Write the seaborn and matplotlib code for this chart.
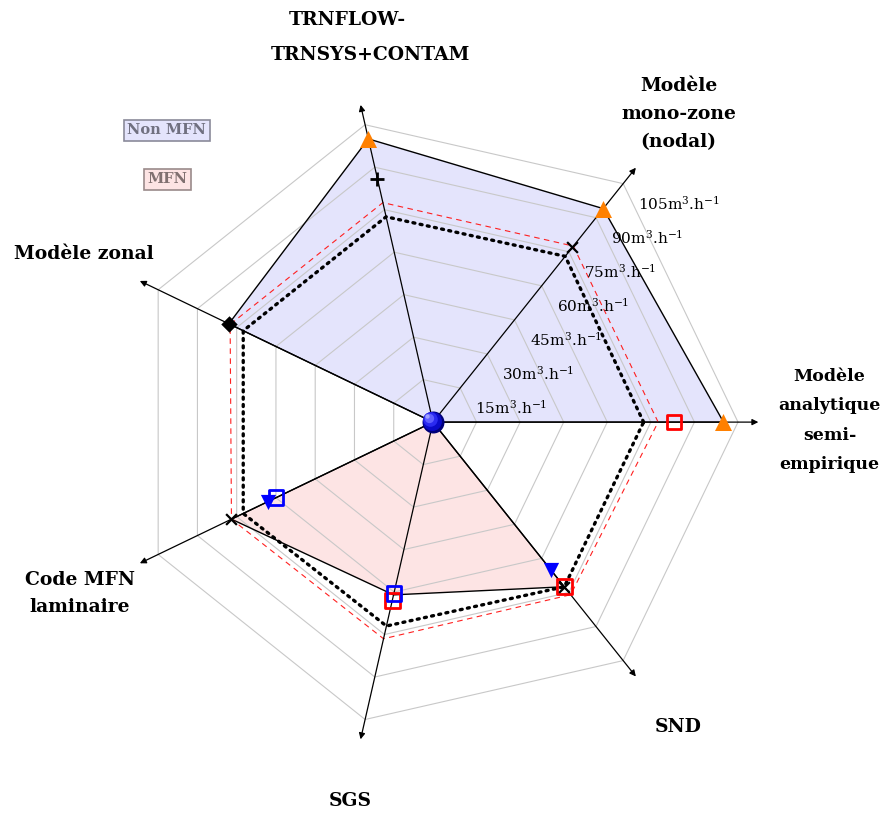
import numpy as np
import matplotlib.pyplot as plt
import seaborn as sns
import pandas as pd

sns.set_style("white")
plt.rcParams['font.family'] = ['DejaVu Serif']
plt.rcParams['mathtext.fontset'] = 'dejavuserif'
plt.rcParams['text.color'] = 'black'

# axes of the radar, counter-clockwise from the right
axis_names = ['Modèle\nanalytique\nsemi-\nempirique',
              'Modèle\nmono-zone\n(nodal)',
              'TRNFLOW-\nTRNSYS+CONTAM',
              'Modèle zonal',
              'Code MFN\nlaminaire',
              'SGS',
              'SND']
rings = [15, 30, 45, 60, 75, 90, 105]
ring_labels = [r'%dm$^3$.h$^{-1}$' % r for r in rings]

# filled areas
non_mfn = [100, 94, 100, 78, 0, 0, 0]
mfn = [0, 0, 0, 0, 77, 61, 72.5]
# reference contours
dotted_vals = [72.5, 73, 72.5, 72.5, 72.5, 72, 72.5]
dashed_vals = [77.5, 77.5, 77.5, 77.5, 77, 76.5, 76]

# markers: axis index and value
tri_up_axes, tri_up_vals = [0, 1, 2], [100, 94, 100]
plus_axes, plus_vals = [2], [86]
cross_axes, cross_vals = [1, 4, 6], [77, 77, 72.5]
diam_axes, diam_vals = [3], [78]
rsq_axes, rsq_vals = [0, 5, 6], [83, 63, 72.5]
bsq_axes, bsq_vals = [4, 5], [60, 60.5]
btri_axes, btri_vals = [4, 6], [63, 65]

n = len(axis_names)
theta = np.arange(n) * 2 * np.pi / n


def xy(idx, vals):
    idx = np.asarray(idx)
    vals = np.asarray(vals, dtype=float)
    return vals * np.cos(theta[idx]), vals * np.sin(theta[idx])


def closed(vals):
    x, y = xy(range(n), vals)
    return pd.DataFrame({'x': np.append(x, x[0]), 'y': np.append(y, y[0]),
                         'o': np.arange(n + 1)})


fig = plt.figure(figsize=(8.85, 8.14), dpi=100)
ax = fig.add_axes([0, 0, 1, 1])
ax.set_xlim(-149.05, 155.6)
ax.set_ylim(-134.9, 145.3)
ax.set_aspect('equal')
ax.axis('off')

# fills
for vals, fc in [(non_mfn, '#e4e4fc'), (mfn, '#fde4e4')]:
    d = closed(vals)
    ax.fill(d['x'], d['y'], color=fc, zorder=1, lw=0)

# grid rings
for r in rings:
    d = closed([r] * n)
    ax.plot(d['x'], d['y'], color='#c8c8c8', lw=0.8, zorder=2)

# polygon edges
for vals in [non_mfn, mfn]:
    d = closed(vals)
    sns.lineplot(data=d, x='x', y='y', sort=False, estimator=None,
                 color='black', lw=1.0, ax=ax, zorder=4)

d = closed(dotted_vals)
ax.plot(d['x'], d['y'], color='black', lw=2.4, ls=(0, (0.6, 1.6)),
        dash_capstyle='round', zorder=4)
d = closed(dashed_vals)
ax.plot(d['x'], d['y'], color='#ff2020', lw=0.8, ls=(0, (5, 4)), zorder=4)

# axes with arrows
for k in range(n):
    ax.annotate('', xy=(112 * np.cos(theta[k]), 112 * np.sin(theta[k])),
                xytext=(0, 0),
                arrowprops=dict(arrowstyle='-|>', color='black', lw=0.9,
                                mutation_scale=9, shrinkA=0, shrinkB=0),
                zorder=5)

# ring labels along the mono-zone axis
for r, lab in zip(rings, ring_labels):
    px = r * np.cos(theta[1]) + 5.2
    py = r * np.sin(theta[1]) - 6.9
    ax.text(px, py, lab, fontsize=11, ha='left', va='center', zorder=6)

# markers
def mk(idx, vals, **kw):
    x, y = xy(idx, vals)
    sns.scatterplot(x=x, y=y, ax=ax, zorder=7, legend=False, **kw)

mk(tri_up_axes, tri_up_vals, marker='^', s=150, color='#ff8000', linewidth=0)
mk(rsq_axes, rsq_vals, marker='s', s=110, facecolor='none',
   edgecolor='#ff0000', linewidth=2)
mk(bsq_axes, bsq_vals, marker='s', s=110, facecolor='none',
   edgecolor='#0000ff', linewidth=2)
mk(btri_axes, btri_vals, marker='v', s=120, color='#0000ff', linewidth=0)
mk(plus_axes, plus_vals, marker='+', s=90, color='black', linewidth=2)
mk(cross_axes, cross_vals, marker='x', s=60, color='black', linewidth=1.6)
mk(diam_axes, diam_vals, marker='D', s=70, color='black', linewidth=0)

# shaded ball at the centre
for s, c, off in [(250, '#00007a', 0), (185, '#0a0ac8', 0.4),
                  (110, '#2a2af0', 0.9), (45, '#6060ff', 1.5),
                  (10, '#a0a0ff', 2.0)]:
    ax.scatter([-off], [off], s=s, color=c, zorder=8, linewidths=0)

# axis titles
font = dict(fontsize=13.5, fontweight='bold', linespacing=1.7)
ax.text(-29.5, 138.5, 'TRNFLOW-', ha='center', va='center', **font)
ax.text(-21.5, 126.5, 'TRNSYS+CONTAM', ha='center', va='center', **font)
ax.text(84.5, 106, axis_names[1], ha='center', va='center', **font)
ax.text(136.5, 0.5, axis_names[0], ha='center', va='center',
        fontsize=12.5, fontweight='bold', linespacing=1.95)
ax.text(-96, 58, axis_names[3], ha='right', va='center', **font)
ax.text(-121.5, -59, axis_names[4], ha='center', va='center', **font)
ax.text(-28.5, -130.5, axis_names[5], ha='center', va='center', **font)
ax.text(84.5, -105, axis_names[6], ha='center', va='center', **font)

# legend boxes
ax.text(-91.6, 100.5, 'Non MFN', fontsize=10.5, fontweight='bold',
        color='#707080', ha='center', va='center',
        bbox=dict(boxstyle='square,pad=0.25', fc='#e4e4fc', ec='#8a8a9a', lw=1.2))
ax.text(-91.3, 83.6, 'MFN', fontsize=10.5, fontweight='bold', color='#807070',
        ha='center', va='center',
        bbox=dict(boxstyle='square,pad=0.25', fc='#fde4e4', ec='#9a8a8a', lw=1.2))

fig.savefig('out.png', dpi=100)
